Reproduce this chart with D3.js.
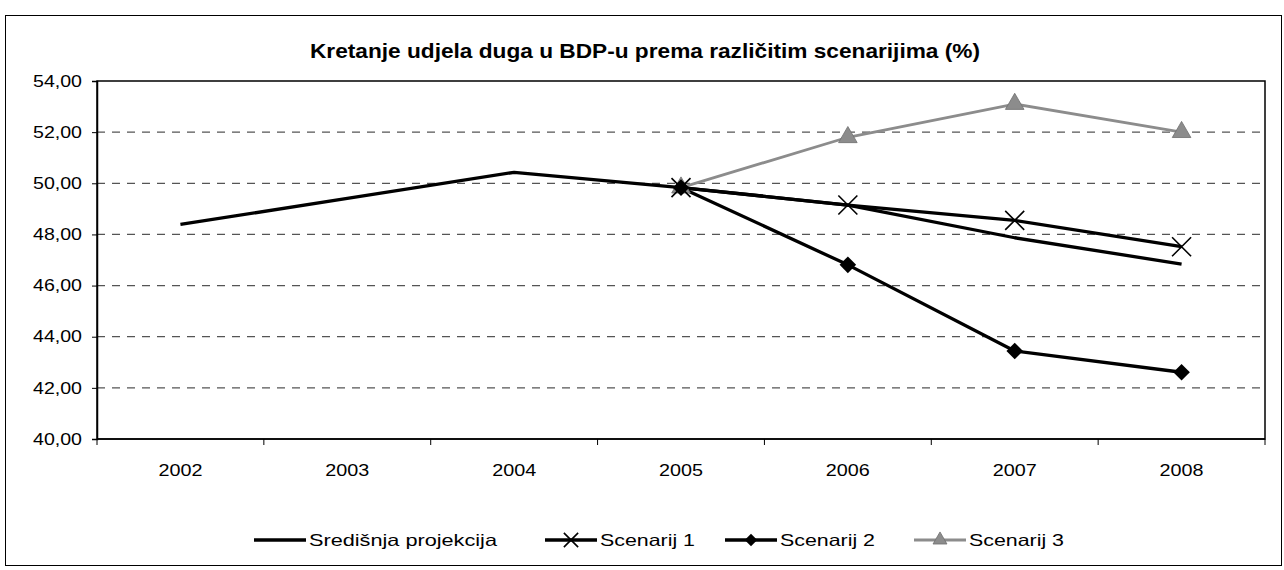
<!DOCTYPE html>
<html>
<head>
<meta charset="utf-8">
<script src="https://cdn.jsdelivr.net/npm/d3@7"></script>
<style>
  html, body { margin: 0; padding: 0; background: #fff; }
  svg { display: block; font-family: "Liberation Sans", Arial, sans-serif; }
</style>
</head>
<body>
<svg id="chart" width="1284" height="570"></svg>
<script>
const title = "Kretanje udjela duga u BDP-u prema različitim scenarijima (%)";
const years = ["2002", "2003", "2004", "2005", "2006", "2007", "2008"];
const yTicks = [40, 42, 44, 46, 48, 50, 52, 54];
const central = [48.39, 49.41, 50.43, 49.83, 49.15, 47.87, 46.84];
const scenario1 = [null, null, null, 49.83, 49.15, 48.55, 47.52];
const scenario2 = [null, null, null, 49.83, 46.81, 43.44, 42.61];
const scenario3 = [null, null, null, 49.83, 51.80, 53.10, 52.00];
const seriesNames = ["Središnja projekcija", "Scenarij 1", "Scenarij 2", "Scenarij 3"];

const svg = d3.select("#chart");
const plot = { left: 97, right: 1265, top: 81, bottom: 439 };
const FONT = "Liberation Sans, Arial, sans-serif";

// outer frame
svg.append("rect").attr("x", 5.5).attr("y", 15.5).attr("width", 1276).attr("height", 550)
  .attr("fill", "none").attr("stroke", "#000").attr("stroke-width", 1);

svg.append("text").attr("x", 645).attr("y", 58).attr("text-anchor", "middle")
  .attr("font-size", 20.5).attr("font-weight", "bold")
  .attr("textLength", 670).attr("lengthAdjust", "spacingAndGlyphs").text(title);

const x = d3.scaleBand().domain(years).range([plot.left, plot.right]).padding(0);
const y = d3.scaleLinear().domain([40, 54]).range([plot.bottom, plot.top]);

// gridlines
svg.append("g").selectAll("line").data(yTicks.filter(t => t > 40 && t < 54)).join("line")
  .attr("x1", plot.left).attr("x2", plot.right)
  .attr("y1", d => y(d)).attr("y2", d => y(d))
  .attr("stroke", "#555").attr("stroke-width", 1.2).attr("stroke-dasharray", "8,7");

// plot border (top & right)
svg.append("rect").attr("x", plot.left).attr("y", plot.top)
  .attr("width", plot.right - plot.left).attr("height", plot.bottom - plot.top)
  .attr("fill", "none").attr("stroke", "#000").attr("stroke-width", 1.5);

// y axis
const yAxis = d3.axisLeft(y).tickValues(yTicks).tickSize(5).tickPadding(10)
  .tickFormat(d => d3.format(".2f")(d).replace(".", ","));
const gy = svg.append("g").attr("transform", `translate(${plot.left},0)`).call(yAxis);
gy.attr("font-size", 16.5).attr("font-family", FONT);
gy.select(".domain").attr("stroke-width", 1.5);
gy.selectAll("text").attr("fill", "#000")
  .attr("textLength", 49).attr("lengthAdjust", "spacingAndGlyphs");

// x axis: ticks at category boundaries
const gx = svg.append("g").attr("transform", `translate(0,${plot.bottom})`);
gx.append("line").attr("x1", plot.left).attr("x2", plot.right).attr("y1", 0).attr("y2", 0)
  .attr("stroke", "#000").attr("stroke-width", 1.5);
const bounds = years.map(d => x(d)).concat([x(years[years.length - 1]) + x.bandwidth()]);
gx.selectAll("line.tk").data(bounds).join("line").attr("class", "tk")
  .attr("x1", d => d).attr("x2", d => d).attr("y1", 0).attr("y2", 6)
  .attr("stroke", "#000").attr("stroke-width", 1);
gx.selectAll("text").data(years).join("text")
  .attr("x", d => x(d) + x.bandwidth() / 2).attr("y", 37)
  .attr("text-anchor", "middle").attr("font-size", 16.5)
  .attr("textLength", 44).attr("lengthAdjust", "spacingAndGlyphs").text(d => d);

const cx = i => x(years[i]) + x.bandwidth() / 2;
const line = d3.line().defined(d => d.v != null).x(d => cx(d.i)).y(d => y(d.v));
const toPts = arr => arr.map((v, i) => ({ v, i }));

const styles = [
  { data: central, color: "#000", width: 3.3, marker: null },
  { data: scenario1, color: "#000", width: 3.3, marker: "x" },
  { data: scenario2, color: "#000", width: 3.3, marker: "diamond" },
  { data: scenario3, color: "#8c8c8c", width: 2.8, marker: "triangle" }
];

function drawMarker(g, type, px, py, color, scale) {
  if (type === "x") {
    const s = 9.5 * scale;
    g.append("path").attr("d", `M${px - s},${py - s}L${px + s},${py + s}M${px - s},${py + s}L${px + s},${py - s}`)
      .attr("stroke", "#000").attr("stroke-width", 1.6).attr("fill", "none");
  } else if (type === "diamond") {
    g.append("path").attr("d", d3.symbol(d3.symbolDiamond2, 175 * scale * scale)())
      .attr("transform", `translate(${px},${py})`).attr("fill", "#000");
  } else if (type === "triangle") {
    g.append("path").attr("d", d3.symbol(d3.symbolTriangle, 150 * scale * scale)())
      .attr("transform", `translate(${px},${py})`).attr("fill", color)
      .attr("stroke", "#6e6e6e").attr("stroke-width", 0.8);
  }
}

// draw in order: scenario 3 first (underneath), then 2, 1, central
[3, 2, 1, 0].forEach(k => {
  const s = styles[k];
  svg.append("path").datum(toPts(s.data)).attr("d", line)
    .attr("fill", "none").attr("stroke", s.color).attr("stroke-width", s.width)
    .attr("stroke-linejoin", "round");
});
[3, 2, 1].forEach(k => {
  const s = styles[k];
  const g = svg.append("g");
  toPts(s.data).filter(d => d.v != null).forEach(d => drawMarker(g, s.marker, cx(d.i), y(d.v), s.color, 1));
});

// legend
const legendY = 540;
const legendItems = [
  { x: 254, textX: 309, w: 188 },
  { x: 545, textX: 600, w: 95 },
  { x: 725, textX: 780, w: 95 },
  { x: 914, textX: 969, w: 95 }
];
legendItems.forEach((it, k) => {
  const s = styles[k];
  const g = svg.append("g");
  const x2 = it.textX - 3;
  g.append("line").attr("x1", it.x).attr("x2", x2).attr("y1", legendY).attr("y2", legendY)
    .attr("stroke", s.color).attr("stroke-width", s.width);
  if (s.marker) drawMarker(g, s.marker, (it.x + x2) / 2, legendY, s.color, 0.75);
  g.append("text").attr("x", it.textX).attr("y", legendY + 6).attr("font-size", 16.5)
    .attr("textLength", it.w).attr("lengthAdjust", "spacingAndGlyphs")
    .text(seriesNames[k]);
});
</script>
</body>
</html>
